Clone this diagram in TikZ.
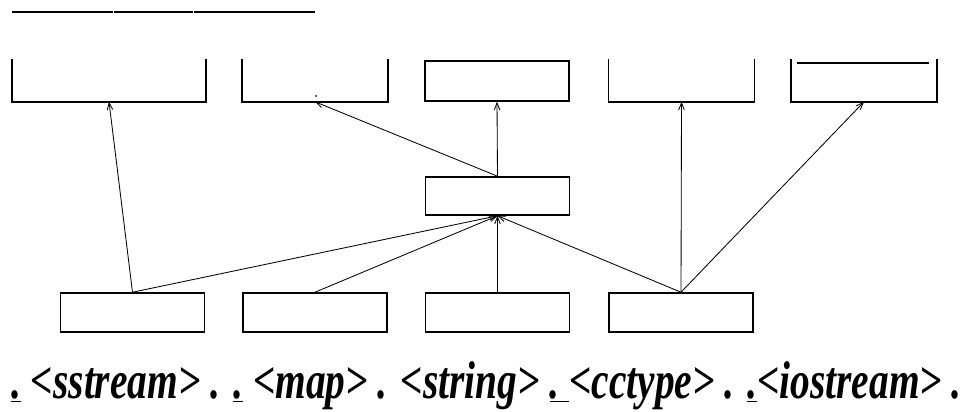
\documentclass[tikz,border=0pt]{standalone}
\usepackage{fontspec}
\setmainfont{Liberation Serif}
\usetikzlibrary{arrows.meta}

\begin{document}
\begin{tikzpicture}[x=0.025cm,y=-0.025cm,
    box/.style={draw,line width=1.1pt,minimum width=3.6cm,minimum height=1.025cm,inner sep=0pt},
    dep/.style={-{Straight Barb[length=5pt,width=4pt]},line width=0.6pt}]

  \useasboundingbox (0,0) rectangle (973,412);

  % header rule
  \draw[line width=1.1pt] (12,12) -- (113,12);
  \draw[line width=1.1pt] (114,12) -- (193,12);
  \draw[line width=1.1pt] (194,12) -- (315,12);

  % library boxes (top row)
  \begin{scope}[every node/.style={box}]
    \node[draw=none,minimum width=4.8cm] (lib1) at (109,80.5) {};
    \node[draw=none] (lib2) at (315,80.5) {};
    \node[minimum height=1cm] (lib3) at (497,81) {};
    \node[draw=none] (lib4) at (681.5,80.5) {};
    \node[draw=none] (lib5) at (864,80.5) {};
  \end{scope}

  \foreach \n in {lib1,lib2,lib4,lib5}
    \draw[line width=1.1pt] (\n.north west) -- (\n.south west) -- (\n.south east) -- (\n.north east);
  \draw[line width=1.1pt] (797,63) -- (929,63);
  \fill (316,96) circle (1);

  % middle box
  \node[box,minimum height=0.95cm] (mid) at (497.5,196) {};

  % bottom row
  \begin{scope}[every node/.style={box,minimum height=0.975cm}]
    \node (src1) at (132.5,312.5) {};
    \node (src2) at (315,312.5) {};
    \node (src3) at (497.5,312.5) {};
    \node (src4) at (681,312.5) {};
  \end{scope}

  \begin{scope}[every edge/.style={draw,dep}]
    \path (src1.north) edge (lib1.south);
    \path (src1.north) edge (mid.south);
    \path (src2.north) edge (mid.south);
    \path (src3.north) edge (mid.south);
    \path (src4.north) edge (mid.south);
    \path (src4.north) edge (lib4.south);
    \path (src4.north) edge (lib5.south);
    \path (mid.north)  edge (lib3.south);
    \path (mid.north)  edge (lib2.south);
  \end{scope}

  % caption
  \node[anchor=base west,inner sep=0pt,font=\bfseries\itshape\fontsize{28}{30}\selectfont] (caption) at (11,398)
    {\scalebox{1}[1.35]{\underline{.} <sstream> . \underline{.} <map> . <string> \underline{.\ }<cctype> . \underline{.}<iostream> .}};

\end{tikzpicture}
\end{document}
